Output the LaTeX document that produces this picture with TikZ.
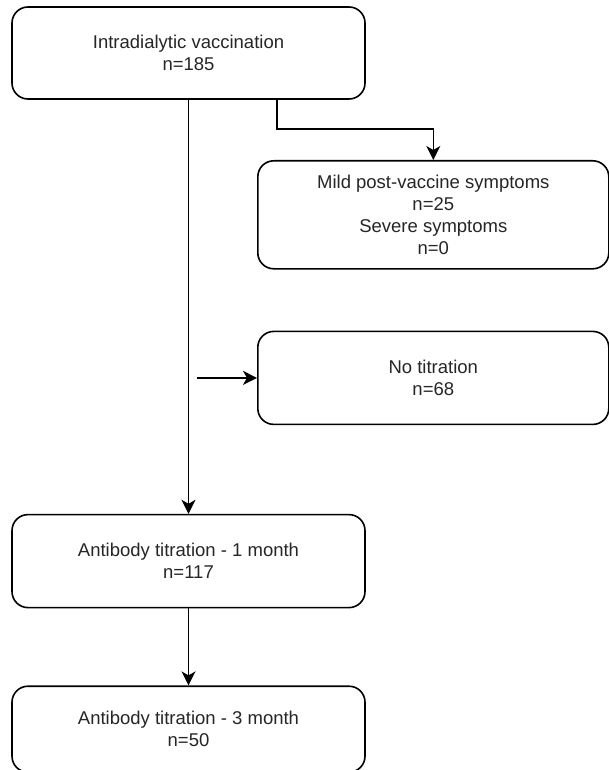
\documentclass[tikz,border=0pt]{standalone}
\usepackage{fontspec}
\setmainfont{Liberation Sans}
\usetikzlibrary{arrows.meta,positioning}

\begin{document}
\begin{tikzpicture}[
  x=1pt, y=1pt,
  node distance=61pt,
  box/.style={draw, line width=1.6pt, rounded corners=16pt, fill=white, minimum width=353pt, minimum height=92pt, align=center, font=\fontsize{18.5}{22}\selectfont, text=black!85},
  arr/.style={line width=1.6pt, -{Stealth[length=14pt, width=14pt, inset=4pt]}}
]
\useasboundingbox (0,0) rectangle (609,-770);

\node[box] (vacc) at (188.5,-53) {Intradialytic vaccination\\n=185};
\node[box, anchor=north west, minimum width=351pt, minimum height=108pt] (mild) at (257,-160) {Mild post-vaccine symptoms\\n=25\\Severe symptoms\\n=0};
\node[box, below=of mild, minimum width=351pt, minimum height=93pt] (notit) {No titration\\n=68};
\node[box, below=414pt of vacc, minimum height=93pt] (ab1) {Antibody titration - 1 month\\n=117};
\node[box, below=77pt of ab1, minimum height=86pt] (ab3) {Antibody titration - 3 month\\n=50};

\coordinate (gap) at ([xshift=-60pt]notit.west);

\draw[arr] (vacc.south) -- (ab1.north);
\draw[arr] ([xshift=88.5pt]vacc.south) -- ++(0,-29) -| (mild.north);
\draw[arr] (gap) -- (notit.west);
\draw[arr] (ab1) -- (ab3);
\end{tikzpicture}
\end{document}
